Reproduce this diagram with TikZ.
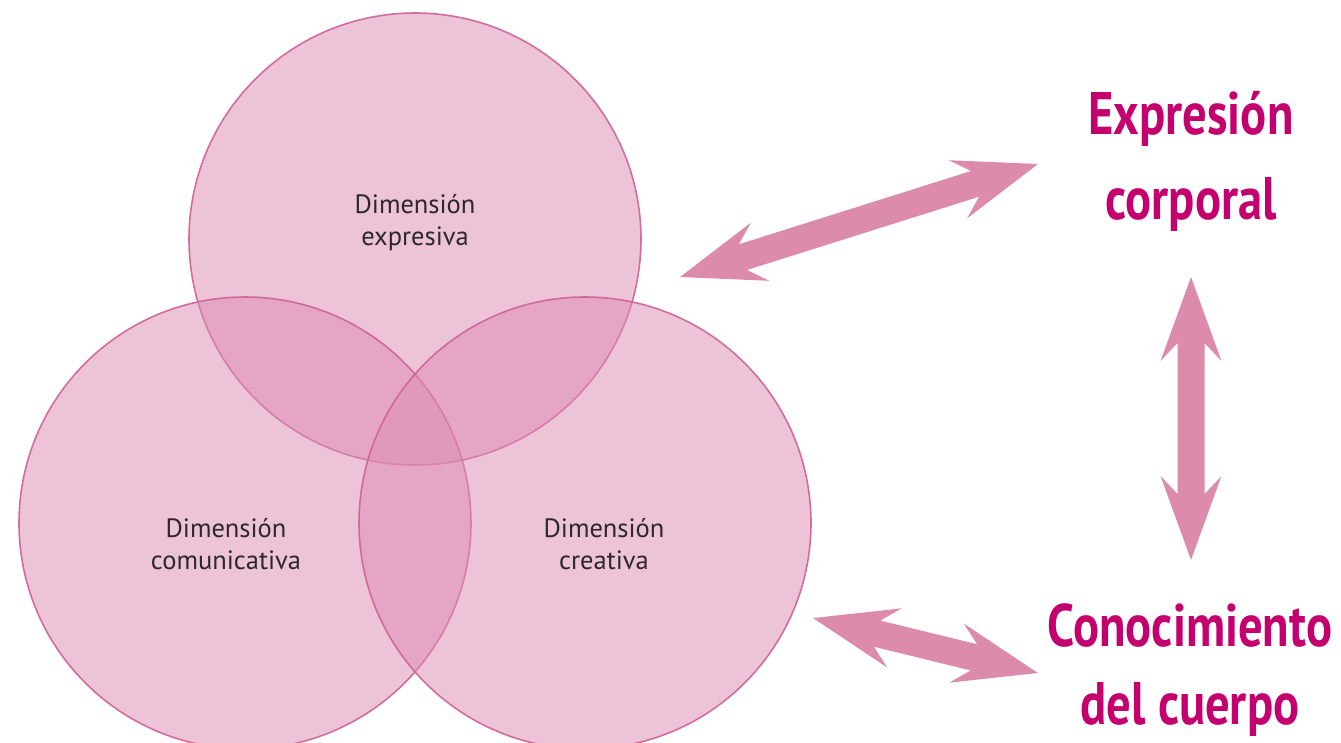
\documentclass[tikz,border=0pt]{standalone}
\usepackage{fontspec}
\setmainfont{PT Sans}
\newfontfamily\condfont[FakeStretch=0.81]{PT Sans}
\usetikzlibrary{calc}
\definecolor{circfill}{RGB}{220,140,178}
\definecolor{circedge}{RGB}{208,96,152}
\definecolor{arrowcol}{RGB}{221,139,172}
\definecolor{titlemag}{RGB}{196,0,110}
\definecolor{labelgray}{RGB}{45,40,42}
\tikzset{
  dcircle/.style={circle, minimum size=452pt, inner sep=0pt, fill=circfill, fill opacity=0.52, draw=circedge, draw opacity=0.9, line width=1.6pt},
  dlabel/.style={align=center, text=labelgray, font=\fontsize{26.5}{32}\selectfont},
  bigtext/.style={align=center, text=titlemag, font=\condfont\bfseries\fontsize{60}{85}\selectfont},
}
\newcommand\dblarrow[2]{%
  \path (#1) coordinate (tA) (#2) coordinate (tB);
  \path ($(tA)!66pt!(tB)$) coordinate (jA) ($(tA)!84pt!(tB)$) coordinate (kA)
        ($(tB)!66pt!(tA)$) coordinate (jB) ($(tB)!84pt!(tA)$) coordinate (kB);
  \fill[arrowcol] (tA) -- ($(kA)!30.5pt!90:(tB)$) -- ($(jA)!13.5pt!90:(tB)$)
    -- ($(jB)!13.5pt!-90:(tA)$) -- ($(kB)!30.5pt!-90:(tA)$) -- (tB)
    -- ($(kB)!30.5pt!90:(tA)$) -- ($(jB)!13.5pt!90:(tA)$)
    -- ($(jA)!13.5pt!-90:(tB)$) -- ($(kA)!30.5pt!-90:(tB)$) -- cycle;
}
\begin{document}
\begin{tikzpicture}[x=1pt,y=-1pt]
\useasboundingbox (0,0) rectangle (1341,742);
\begin{scope}
\clip (0,0) rectangle (1341,742);
\node[dcircle] (cexp) at (415,239) {};
\node[dcircle] (ccom) at (245,523) {};
\node[dcircle] (ccre) at (585,523) {};
\end{scope}
\node[dlabel] (lexp) at (415,223) {Dimensión\\expresiva};
\node[dlabel] (lcom) at (226,544) {Dimensión\\comunicativa};
\node[dlabel] (lcre) at (604,544) {Dimensión\\creativa};

\node[bigtext] (texp) at (1191,161) {Expresión\\corporal};
\node[bigtext, font=\condfont\bfseries\fontsize{60}{78}\selectfont] (tcon) at (1190,670) {Conocimiento\\del cuerpo};

\coordinate (a1) at (680,277);
\coordinate (a2) at (1038,164);
\coordinate (b1) at (813,618);
\coordinate (b2) at (1038,673);
\coordinate (v1) at (1191,277);
\coordinate (v2) at (1191,560);
\dblarrow{a1}{a2}
\dblarrow{b1}{b2}
\dblarrow{v1}{v2}
\end{tikzpicture}
\end{document}
